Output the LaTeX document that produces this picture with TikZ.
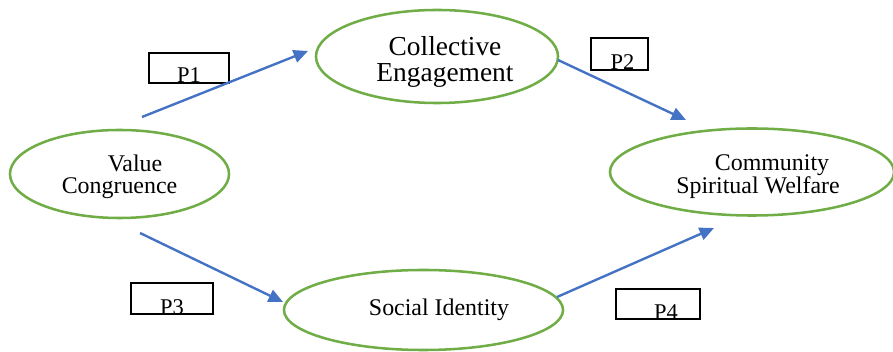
\documentclass[tikz,border=0pt]{standalone}
\usepackage{fontspec}
\setmainfont{Liberation Serif}
\usepackage{xcolor}
\usepackage{tikz}
\usetikzlibrary{shapes.geometric,arrows.meta}

\definecolor{leafgreen}{RGB}{112,173,71}
\definecolor{pathblue}{RGB}{68,114,196}

\begin{document}
\begin{tikzpicture}[x=0.025cm,y=0.025cm]
\tikzstyle{every node}+=[inner sep=0pt]
\tikzstyle{construct}=[ellipse, draw=leafgreen, line width=1.8pt, align=center, font=\fontsize{17}{15.6}\selectfont]
\tikzstyle{pbox}=[draw=black, line width=0.9pt, text depth=0pt, font=\fontsize{16}{16}\selectfont]
\tikzstyle{path}=[draw=pathblue, line width=1.7pt, -{Triangle[length=0.36cm,width=0.32cm]}]
\useasboundingbox (0,0) rectangle (893,-352);
% constructs
\draw (119.5,-174) node [construct, minimum width=5.475cm, minimum height=2.2cm] (vc) {\rule{0pt}{15.8pt}\hspace{0.775cm}Value\\Congruence};
\draw (437,-56.5) node [construct, minimum width=6.05cm, minimum height=2.325cm, font=\fontsize{19.5}{18.6}\selectfont] (ce) {\rule{0pt}{21pt}\hspace{0.4cm}Collective\\\hspace{0.4cm}Engagement};
\draw (752,-172) node [construct, minimum width=7.1cm, minimum height=2.175cm] (csw) {\rule{0pt}{17.5pt}\hspace{1cm}Community\\\hspace{0.3cm}Spiritual Welfare};
\draw (423.5,-310) node [construct, minimum width=6.975cm, minimum height=2cm] (si) {\hspace{0.775cm}Social Identity};
% proposition boxes
\draw (189,-68) node [pbox, minimum width=2cm, text height=0.75cm] (p1) {P1};
\draw (619.5,-54) node [pbox, minimum width=1.425cm, text height=0.8cm] (p2) {\hspace{0.15cm}P2};
\draw (172,-298.5) node [pbox, minimum width=2.05cm, text height=0.775cm] (p3) {P3};
\draw (658,-304) node [pbox, minimum width=2.1cm, text height=0.75cm] (p4) {\hspace{0.4cm}P4};
% paths
\coordinate (p1a) at (142,-117);
\coordinate (p1b) at (308,-51);
\coordinate (p2a) at (558,-60);
\coordinate (p2b) at (686,-120);
\coordinate (p3a) at (140,-233);
\coordinate (p3b) at (283,-302);
\coordinate (p4a) at (557,-297);
\coordinate (p4b) at (714,-228);
\draw [path] (p1a) -- (p1b);
\draw [path] (p2a) -- (p2b);
\draw [path] (p3a) -- (p3b);
\draw [path] (p4a) -- (p4b);
\end{tikzpicture}
\end{document}
